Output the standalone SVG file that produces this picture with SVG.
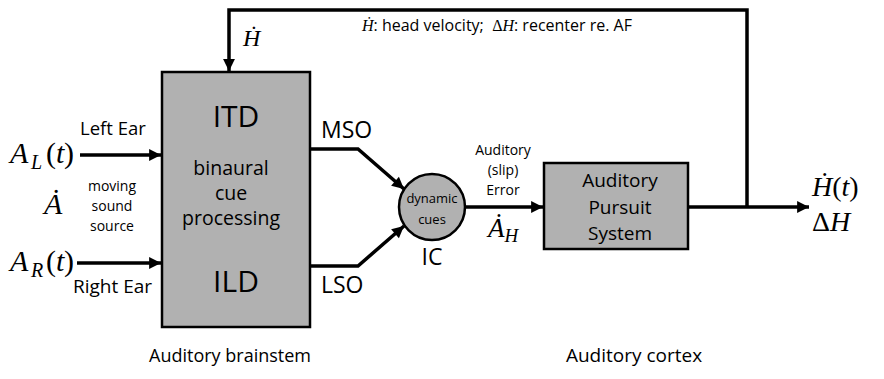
<svg xmlns="http://www.w3.org/2000/svg" width="884" height="379" viewBox="0 0 884 379">
  <style>
    .box { fill: #b1b1b1; stroke: #000; stroke-width: 2.5; }
    .wire { fill: none; stroke: #000; stroke-width: 3.5; stroke-linejoin: miter; }
    .sans { font-family: "Open Sans", "Noto Sans", "DejaVu Sans", sans-serif; fill: #000; }
    .math { font-family: "Liberation Serif", "DejaVu Serif", serif; font-style: italic; fill: #000; }
    .up { font-style: normal; }
    .mid { text-anchor: middle; }
  </style>
  <defs>
    <marker id="arrow" viewBox="0 0 10 10" refX="10" refY="5" markerWidth="4.6" markerHeight="3.4" markerUnits="strokeWidth" orient="auto">
      <path d="M0,0 L10,5 L0,10 z" fill="#000"/>
    </marker>
  </defs>

  <rect width="884" height="379" fill="#fff"/>

  <!-- connectors -->
  <g id="connectors">
    <polyline class="wire" points="747,206 747,10 229,10 229,71" marker-end="url(#arrow)"/>
    <line class="wire" x1="80" y1="155" x2="161" y2="155" marker-end="url(#arrow)"/>
    <line class="wire" x1="77" y1="263" x2="161" y2="263" marker-end="url(#arrow)"/>
    <polyline class="wire" points="310,149 358,149 404,189" marker-end="url(#arrow)"/>
    <polyline class="wire" points="310,266 358,266 404,226" marker-end="url(#arrow)"/>
    <line class="wire" x1="466" y1="207" x2="543" y2="207" marker-end="url(#arrow)"/>
    <line class="wire" x1="688" y1="207" x2="809" y2="207" marker-end="url(#arrow)"/>
  </g>

  <!-- binaural cue processing block -->
  <g id="brainstem">
    <rect class="box" x="162" y="72" width="148" height="255"/>
    <text class="sans mid" x="236" y="127" font-size="30">ITD</text>
    <text class="sans mid" x="231" y="175" font-size="19.5">binaural</text>
    <text class="sans mid" x="231" y="200" font-size="19.5">cue</text>
    <text class="sans mid" x="231" y="225" font-size="19.5">processing</text>
    <text class="sans mid" x="236" y="292" font-size="30">ILD</text>
  </g>

  <!-- inferior colliculus -->
  <g id="ic">
    <circle cx="432" cy="207" r="33" fill="#b1b1b1" stroke="#000" stroke-width="2.5"/>
    <text class="sans mid" x="432" y="203" font-size="13">dynamic</text>
    <text class="sans mid" x="432" y="224" font-size="13">cues</text>
    <text class="sans mid" x="432" y="265" font-size="23">IC</text>
  </g>

  <!-- pursuit system -->
  <g id="pursuit">
    <rect class="box" x="544" y="163" width="144" height="86"/>
    <text class="sans mid" x="620" y="187" font-size="19">Auditory</text>
    <text class="sans mid" x="620" y="214" font-size="19">Pursuit</text>
    <text class="sans mid" x="620" y="240" font-size="19">System</text>
  </g>

  <!-- inputs -->
  <g id="inputs">
    <text class="math" font-size="30"><tspan x="10" y="163">A</tspan><tspan x="31" y="169" font-size="20">L</tspan><tspan class="up" x="46" y="163">(</tspan><tspan x="56" y="163">t</tspan><tspan class="up" x="64" y="163">)</tspan></text>
    <text class="math" x="44" y="214" font-size="30">Ȧ</text>
    <text class="math" font-size="30"><tspan x="10" y="271">A</tspan><tspan x="31" y="277" font-size="20">R</tspan><tspan class="up" x="46" y="271">(</tspan><tspan x="56" y="271">t</tspan><tspan class="up" x="64" y="271">)</tspan></text>
    <text class="sans" x="80" y="135" font-size="18.5">Left Ear</text>
    <text class="sans" x="73" y="293" font-size="19">Right Ear</text>
    <text class="sans mid" x="112" y="191" font-size="14">moving</text>
    <text class="sans mid" x="112" y="211" font-size="14">sound</text>
    <text class="sans mid" x="112" y="231" font-size="14">source</text>
  </g>

  <!-- signal labels -->
  <g id="labels">
    <text class="sans" x="321" y="138" font-size="23">MSO</text>
    <text class="sans" x="321" y="293" font-size="23">LSO</text>
    <text class="math" x="243" y="46" font-size="24">Ḣ</text>
    <text x="362" y="31" font-size="16" xml:space="preserve"><tspan class="math">Ḣ</tspan><tspan class="sans">: head velocity;  </tspan><tspan class="math up">Δ</tspan><tspan class="math">H</tspan><tspan class="sans">: recenter re. AF</tspan></text>
    <text class="sans mid" x="503" y="155" font-size="14">Auditory</text>
    <text class="sans mid" x="503" y="175" font-size="14">(slip)</text>
    <text class="sans mid" x="503" y="195" font-size="14">Error</text>
    <text class="math" x="488" y="237" font-size="27">Ȧ<tspan font-size="19" dy="5">H</tspan></text>
    <text class="math" x="812" y="196" font-size="28">Ḣ<tspan class="up">(</tspan>t<tspan class="up">)</tspan></text>
    <text class="math" x="812" y="231" font-size="28"><tspan class="up">Δ</tspan>H</text>
  </g>

  <!-- region captions -->
  <g id="captions">
    <text class="sans mid" x="230" y="362" font-size="18">Auditory brainstem</text>
    <text class="sans mid" x="634" y="362" font-size="19">Auditory cortex</text>
  </g>
</svg>
